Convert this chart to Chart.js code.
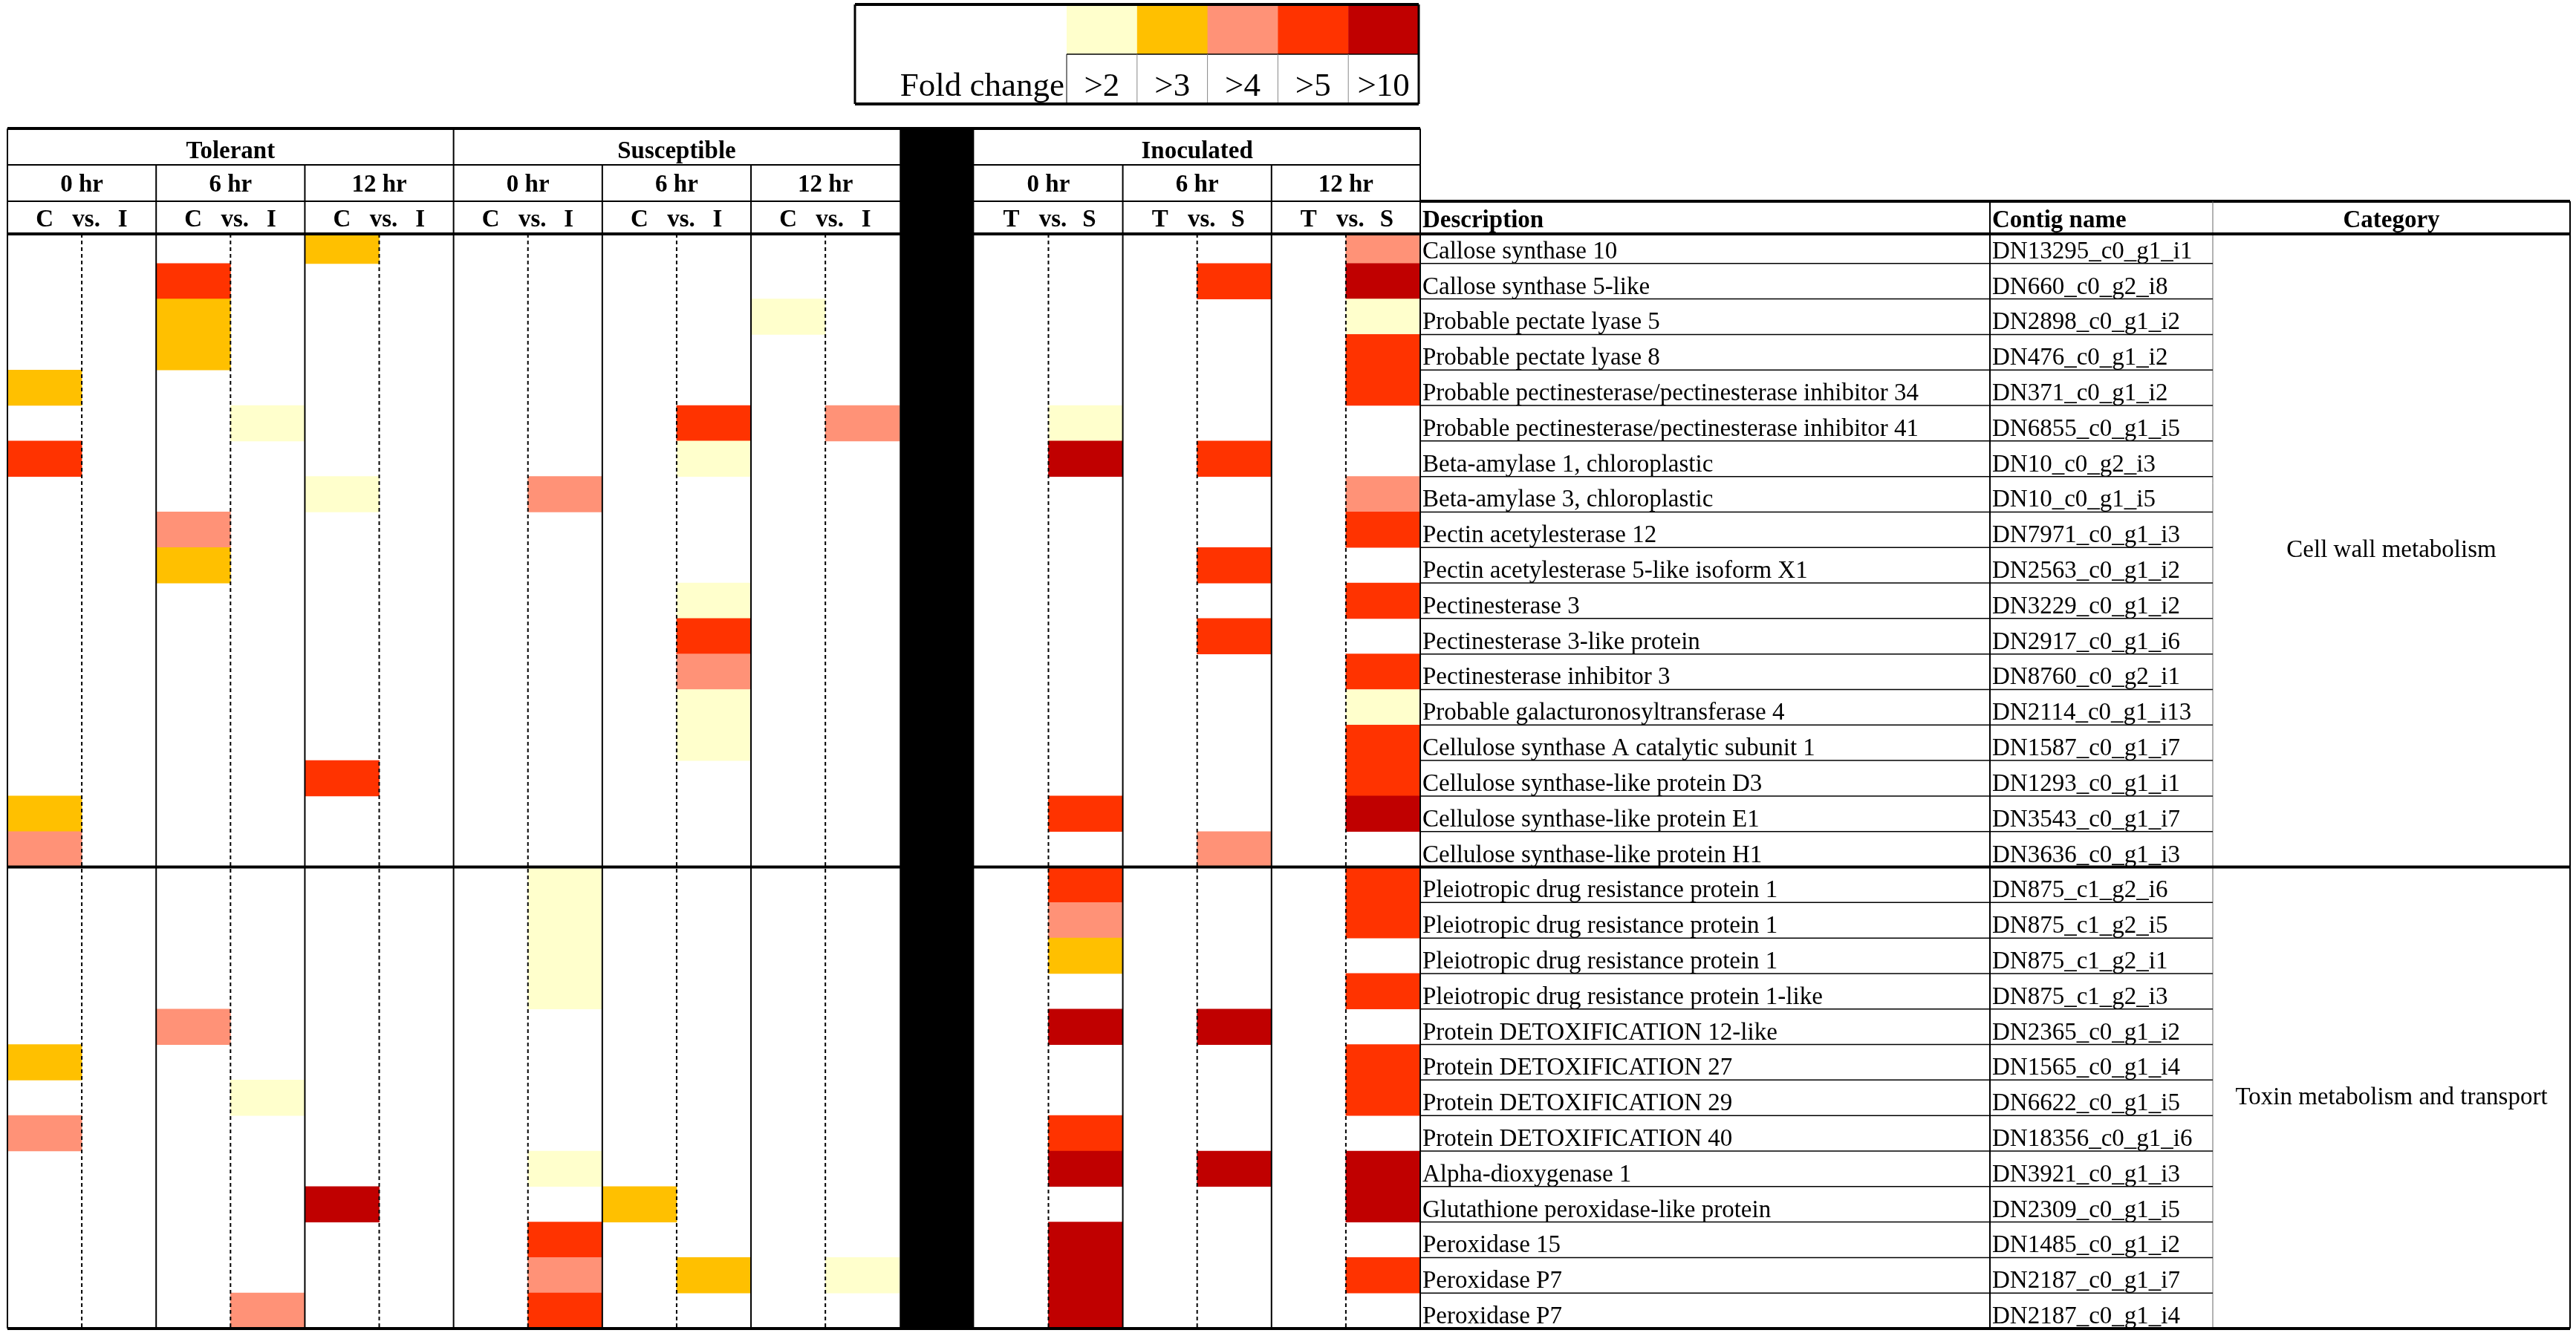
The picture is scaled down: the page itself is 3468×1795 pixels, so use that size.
<!DOCTYPE html>
<html>
<head>
<meta charset="utf-8">
<title>Fold change heatmap</title>
<script src="https://cdn.jsdelivr.net/npm/chart.js@4.4.1/dist/chart.umd.min.js"></script>
<style>
  html, body { margin: 0; padding: 0; background: #fff; }
  #wrap { width: 3468px; height: 1795px; }
</style>
</head>
<body>
<div id="wrap"><canvas id="heatmap" width="3468" height="1795"></canvas></div>
<script>
// ---- table rows ----
const descriptions = [
  'Callose synthase 10', 'Callose synthase 5-like', 'Probable pectate lyase 5', 'Probable pectate lyase 8',
  'Probable pectinesterase/pectinesterase inhibitor 34', 'Probable pectinesterase/pectinesterase inhibitor 41',
  'Beta-amylase 1, chloroplastic', 'Beta-amylase 3, chloroplastic', 'Pectin acetylesterase 12',
  'Pectin acetylesterase 5-like isoform X1', 'Pectinesterase 3', 'Pectinesterase 3-like protein',
  'Pectinesterase inhibitor 3', 'Probable galacturonosyltransferase 4', 'Cellulose synthase A catalytic subunit 1',
  'Cellulose synthase-like protein D3', 'Cellulose synthase-like protein E1', 'Cellulose synthase-like protein H1',
  'Pleiotropic drug resistance protein 1', 'Pleiotropic drug resistance protein 1', 'Pleiotropic drug resistance protein 1',
  'Pleiotropic drug resistance protein 1-like', 'Protein DETOXIFICATION 12-like', 'Protein DETOXIFICATION 27',
  'Protein DETOXIFICATION 29', 'Protein DETOXIFICATION 40', 'Alpha-dioxygenase 1',
  'Glutathione peroxidase-like protein', 'Peroxidase 15', 'Peroxidase P7', 'Peroxidase P7'
];
const contigs = [
  'DN13295_c0_g1_i1', 'DN660_c0_g2_i8', 'DN2898_c0_g1_i2', 'DN476_c0_g1_i2', 'DN371_c0_g1_i2',
  'DN6855_c0_g1_i5', 'DN10_c0_g2_i3', 'DN10_c0_g1_i5', 'DN7971_c0_g1_i3', 'DN2563_c0_g1_i2',
  'DN3229_c0_g1_i2', 'DN2917_c0_g1_i6', 'DN8760_c0_g2_i1', 'DN2114_c0_g1_i13', 'DN1587_c0_g1_i7',
  'DN1293_c0_g1_i1', 'DN3543_c0_g1_i7', 'DN3636_c0_g1_i3', 'DN875_c1_g2_i6', 'DN875_c1_g2_i5',
  'DN875_c1_g2_i1', 'DN875_c1_g2_i3', 'DN2365_c0_g1_i2', 'DN1565_c0_g1_i4', 'DN6622_c0_g1_i5',
  'DN18356_c0_g1_i6', 'DN3921_c0_g1_i3', 'DN2309_c0_g1_i5', 'DN1485_c0_g1_i2', 'DN2187_c0_g1_i7',
  'DN2187_c0_g1_i4'
];
const sectionNames = ['Cell wall metabolism', 'Toxin metabolism and transport'];
const sectionStarts = [0, 18];

// ---- column headers ----
const groupNames = ['Tolerant', 'Susceptible', 'Inoculated'];
const timeLabels = ['0 hr', '6 hr', '12 hr'];
const pairLabels = [['C', 'I'], ['C', 'I'], ['T', 'S']];

// ---- legend ----
const foldLabels = ['>2', '>3', '>4', '>5', '>10'];
const foldColors = ['#FFFFCC', '#FFC000', '#FF9277', '#FF3300', '#C00000'];

// fold change class per row: 0 = none, 1..5 = foldLabels[n-1]
const tol0C  = [0,0,0,0,2,0,4,0,0,0, 0,0,0,0,0,0,2,3, 0,0,0,0,0,2,0,3,0,0,0,0,0];
const tol0I  = [0,0,0,0,0,0,0,0,0,0, 0,0,0,0,0,0,0,0, 0,0,0,0,0,0,0,0,0,0,0,0,0];
const tol6C  = [0,4,2,2,0,0,0,0,3,2, 0,0,0,0,0,0,0,0, 0,0,0,0,3,0,0,0,0,0,0,0,0];
const tol6I  = [0,0,0,0,0,1,0,0,0,0, 0,0,0,0,0,0,0,0, 0,0,0,0,0,0,1,0,0,0,0,0,3];
const tol12C = [2,0,0,0,0,0,0,1,0,0, 0,0,0,0,0,4,0,0, 0,0,0,0,0,0,0,0,0,5,0,0,0];
const tol12I = [0,0,0,0,0,0,0,0,0,0, 0,0,0,0,0,0,0,0, 0,0,0,0,0,0,0,0,0,0,0,0,0];
const sus0C  = [0,0,0,0,0,0,0,0,0,0, 0,0,0,0,0,0,0,0, 0,0,0,0,0,0,0,0,0,0,0,0,0];
const sus0I  = [0,0,0,0,0,0,0,3,0,0, 0,0,0,0,0,0,0,0, 1,1,1,1,0,0,0,0,1,0,4,3,4];
const sus6C  = [0,0,0,0,0,0,0,0,0,0, 0,0,0,0,0,0,0,0, 0,0,0,0,0,0,0,0,0,2,0,0,0];
const sus6I  = [0,0,0,0,0,4,1,0,0,0, 1,4,3,1,1,0,0,0, 0,0,0,0,0,0,0,0,0,0,0,2,0];
const sus12C = [0,0,1,0,0,0,0,0,0,0, 0,0,0,0,0,0,0,0, 0,0,0,0,0,0,0,0,0,0,0,0,0];
const sus12I = [0,0,0,0,0,3,0,0,0,0, 0,0,0,0,0,0,0,0, 0,0,0,0,0,0,0,0,0,0,0,1,0];
const ino0T  = [0,0,0,0,0,0,0,0,0,0, 0,0,0,0,0,0,0,0, 0,0,0,0,0,0,0,0,0,0,0,0,0];
const ino0S  = [0,0,0,0,0,1,5,0,0,0, 0,0,0,0,0,0,4,0, 4,3,2,0,5,0,0,4,5,0,5,5,5];
const ino6T  = [0,0,0,0,0,0,0,0,0,0, 0,0,0,0,0,0,0,0, 0,0,0,0,0,0,0,0,0,0,0,0,0];
const ino6S  = [0,4,0,0,0,0,4,0,0,4, 0,4,0,0,0,0,0,3, 0,0,0,0,5,0,0,0,5,0,0,0,0];
const ino12T = [0,0,0,0,0,0,0,0,0,0, 0,0,0,0,0,0,0,0, 0,0,0,0,0,0,0,0,0,0,0,0,0];
const ino12S = [3,5,1,4,4,0,0,3,4,0, 4,0,4,1,4,4,5,0, 4,4,0,4,0,4,4,0,5,5,0,4,0];

const subColumns = [tol0C, tol0I, tol6C, tol6I, tol12C, tol12I,
                    sus0C, sus0I, sus6C, sus6I, sus12C, sus12I,
                    ino0T, ino0S, ino6T, ino6S, ino12T, ino12S];

// x units: 12 half-cells, one black spacer, 6 half-cells
const spacerAt = 12;
const colStart = j => j + (j >= spacerAt ? 1 : 0);

const datasets = subColumns.map((levels, j) => ({
  data: levels.map(l => l ? [colStart(j), colStart(j) + 1] : null),
  backgroundColor: levels.map(l => l ? foldColors[l - 1] : 'rgba(0,0,0,0)'),
  borderWidth: 0,
  borderSkipped: false,
  grouped: false,
  barPercentage: 1,
  categoryPercentage: 1
}));

const SERIF = '"Liberation Serif", "Times New Roman", serif';
const TOP = 173, ROW1 = 222, ROW2 = 271, HEAD_BOTTOM = 315;
const CONTIG_X = 2679, CAT_X = 2979, RIGHT_X = 3460;

function line(ctx, x1, y1, x2, y2, w, color, dash) {
  ctx.save();
  ctx.beginPath();
  ctx.lineWidth = w;
  ctx.strokeStyle = color || '#000';
  ctx.setLineDash(dash || []);
  ctx.moveTo(x1, y1);
  ctx.lineTo(x2, y2);
  ctx.stroke();
  ctx.restore();
}

function text(ctx, str, x, y, align, font) {
  ctx.font = font;
  ctx.textAlign = align;
  ctx.fillStyle = '#000';
  ctx.fillText(str, x, y);
}

const tableFrame = {
  id: 'tableFrame',
  beforeDatasetsDraw(chart) {
    const a = chart.chartArea;
    chart.ctx.save();
    chart.ctx.beginPath();
    chart.ctx.rect(a.left, HEAD_BOTTOM, a.right - a.left, a.bottom - HEAD_BOTTOM);
    chart.ctx.clip();
  },
  afterDatasetsDraw(chart) {
    chart.ctx.restore();
  },
  afterDraw(chart) {
    const ctx = chart.ctx;
    const xs = chart.scales.x, ys = chart.scales.y;
    const px = v => xs.getPixelForValue(v);
    const rowH = (ys.bottom - ys.top) / descriptions.length;
    const rowTop = i => ys.getPixelForValue(i) - rowH / 2;
    const L = px(0), R = px(19), B = chart.chartArea.bottom;

    // heatmap grid
    const groupStarts = [0, 6, 13];
    groupStarts.forEach(g => {
      for (let t = 0; t < 3; t++) {
        const s = g + t * 2;
        if (t > 0) line(ctx, px(s), ROW1, px(s), B, 2);
        line(ctx, px(s + 1), HEAD_BOTTOM, px(s + 1), B, 2, '#000', [5, 4]);
      }
    });
    line(ctx, L, TOP, L, B, 2);
    line(ctx, px(6), TOP, px(6), B, 2);
    line(ctx, R, TOP, R, B, 2);
    line(ctx, L, TOP, R, TOP, 4);
    line(ctx, L, ROW1, R, ROW1, 2);
    line(ctx, L, ROW2, R, ROW2, 2);

    // description table grid
    line(ctx, R, ROW2, RIGHT_X, ROW2, 4);
    line(ctx, CONTIG_X, ROW2, CONTIG_X, B, 2);
    line(ctx, CAT_X, ROW2, CAT_X, B, 1, '#666');
    line(ctx, RIGHT_X, ROW2, RIGHT_X, B, 2);
    for (let i = 1; i < descriptions.length; i++) {
      if (sectionStarts.includes(i)) continue;
      line(ctx, R, rowTop(i), CAT_X, rowTop(i), 1.5);
    }
    line(ctx, L, HEAD_BOTTOM, RIGHT_X, HEAD_BOTTOM, 4);
    sectionStarts.slice(1).forEach(i => line(ctx, L, rowTop(i), RIGHT_X, rowTop(i), 4));
    line(ctx, L, B, RIGHT_X, B, 4);

    // black spacer column
    ctx.fillStyle = '#000';
    ctx.fillRect(px(spacerAt), TOP - 2, px(spacerAt + 1) - px(spacerAt), B - TOP + 4);

    // column headers
    ctx.textBaseline = 'alphabetic';
    const bold = 'bold 33px ' + SERIF;
    groupNames.forEach((name, g) => {
      const s = groupStarts[g];
      text(ctx, name, (px(s) + px(s + 6)) / 2, 213, 'center', bold);
      timeLabels.forEach((tl, t) => {
        const c = s + t * 2;
        text(ctx, tl, px(c + 1), 258, 'center', bold);
        text(ctx, pairLabels[g][0], px(c + 0.5), 305, 'center', bold);
        text(ctx, 'vs.', px(c + 1) + 6, 305, 'center', bold);
        text(ctx, pairLabels[g][1], px(c + 1.5) + 5, 305, 'center', bold);
      });
    });
    text(ctx, 'Description', R + 3, 306, 'left', bold);
    text(ctx, 'Contig name', CONTIG_X + 3, 306, 'left', bold);
    text(ctx, 'Category', (CAT_X + RIGHT_X) / 2, 306, 'center', bold);

    // row texts
    const reg = '33px ' + SERIF;
    descriptions.forEach((d, i) => {
      const base = rowTop(i) + rowH - 7;
      text(ctx, d, R + 3, base, 'left', reg);
      text(ctx, contigs[i], CONTIG_X + 3, base, 'left', reg);
    });
    ctx.textBaseline = 'middle';
    sectionNames.forEach((name, k) => {
      const y0 = k === 0 ? HEAD_BOTTOM : rowTop(sectionStarts[k]);
      const y1 = k + 1 < sectionStarts.length ? rowTop(sectionStarts[k + 1]) : B;
      text(ctx, name, (CAT_X + RIGHT_X) / 2, (y0 + y1) / 2, 'center', reg);
    });

    // fold change legend
    const lg = { left: 1151, right: 1910, top: 6, mid: 73, bottom: 140, sw: 1436 };
    const sw = (lg.right - lg.sw) / foldColors.length;
    foldColors.forEach((c, k) => {
      ctx.fillStyle = c;
      ctx.fillRect(lg.sw + k * sw, lg.top, sw + 0.5, lg.mid - lg.top);
    });
    line(ctx, lg.sw, lg.mid, lg.right, lg.mid, 1.5);
    for (let k = 0; k < foldColors.length; k++) {
      line(ctx, lg.sw + k * sw, lg.mid, lg.sw + k * sw, lg.bottom, 1, k === 0 ? '#000' : '#888');
    }
    line(ctx, lg.left, lg.top, lg.right, lg.top, 4);
    line(ctx, lg.left, lg.bottom, lg.right, lg.bottom, 4);
    line(ctx, lg.left, lg.top, lg.left, lg.bottom, 3);
    line(ctx, lg.right, lg.top, lg.right, lg.bottom, 3);
    ctx.textBaseline = 'alphabetic';
    const big = '45px ' + SERIF;
    text(ctx, 'Fold change', lg.sw - 3, 129, 'right', big);
    foldLabels.forEach((t, k) => text(ctx, t, lg.sw + (k + 0.5) * sw, 129, 'center', big));
  }
};

new Chart(document.getElementById('heatmap'), {
  type: 'bar',
  data: { labels: descriptions, datasets },
  options: {
    indexAxis: 'y',
    responsive: false,
    devicePixelRatio: 1,
    animation: false,
    layout: { padding: { left: 10, top: 307, right: 1556, bottom: 6 } },
    plugins: { legend: { display: false }, tooltip: { enabled: false } },
    scales: {
      x: { type: 'linear', min: 0, max: 19, display: false },
      y: { type: 'category', display: false }
    }
  },
  plugins: [tableFrame]
});
</script>
</body>
</html>
